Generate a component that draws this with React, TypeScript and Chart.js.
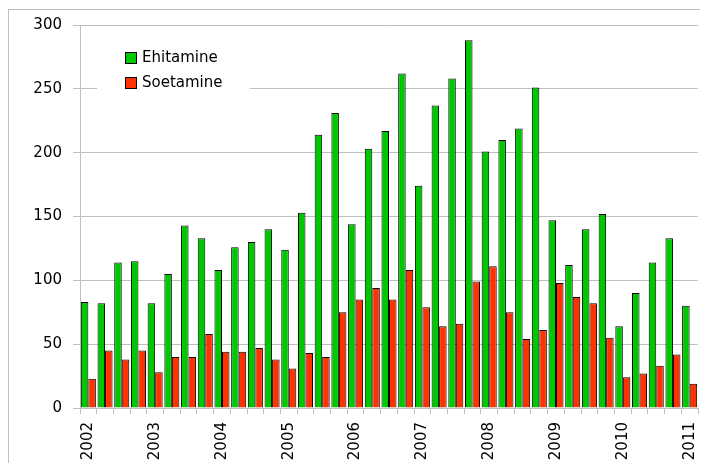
import React, { useEffect, useRef } from "react";
import { Chart, registerables } from "chart.js";

Chart.register(...registerables);

// One entry per quarter, 2002 Q1 .. 2011 Q1; year shown on first quarter
const categories = [
  "2002", "", "", "",
  "2003", "", "", "",
  "2004", "", "", "",
  "2005", "", "", "",
  "2006", "", "", "",
  "2007", "", "", "",
  "2008", "", "", "",
  "2009", "", "", "",
  "2010", "", "", "",
  "2011",
];

const ehitamine = [
  83, 82, 114, 115,
  82, 105, 143, 133,
  108, 126, 130, 140,
  124, 153, 214, 231,
  144, 203, 217, 262,
  174, 237, 258, 288,
  201, 210, 219, 251,
  147, 112, 140, 152,
  64, 90, 114, 133,
  80,
];

const soetamine = [
  23, 45, 38, 45,
  28, 40, 40, 58,
  44, 44, 47, 38,
  31, 43, 40, 75,
  85, 94, 85, 108,
  79, 64, 66, 99,
  111, 75, 54, 61,
  98, 87, 82, 55,
  24, 27, 33, 42,
  19,
];

const yTicks = [0, 50, 100, 150, 200, 250, 300];

const FONT = "'DejaVu Sans', sans-serif";
const GRID = "#bfbfbf";

const insideLegend = {
  id: "insideLegend",
  afterDraw(chart: any) {
    const ctx = chart.ctx;
    ctx.save();
    ctx.fillStyle = "#ffffff";
    ctx.fillRect(88, 30, 153, 56);
    ctx.font = `15px ${FONT}`;
    ctx.textBaseline = "middle";
    ctx.textAlign = "left";
    chart.data.datasets.forEach((ds: any, i: number) => {
      const y = 48 + i * 25;
      ctx.fillStyle = ds.backgroundColor;
      ctx.fillRect(117, y - 5, 10, 10);
      ctx.strokeStyle = "#000000";
      ctx.lineWidth = 1;
      ctx.strokeRect(116.5, y - 5.5, 11, 11);
      ctx.fillStyle = "#000000";
      ctx.fillText(ds.label, 133, y + 0.5);
    });
    ctx.restore();
  },
};

export default function App() {
  const ref = useRef<HTMLCanvasElement | null>(null);

  useEffect(() => {
    document.documentElement.style.overflow = "hidden";
    document.body.style.overflow = "hidden";
    if (!ref.current) return;
    const chart = new Chart(ref.current, {
      type: "bar",
      data: {
        labels: categories,
        datasets: [
          {
            label: "Ehitamine",
            data: ehitamine,
            backgroundColor: "#00c800",
            borderColor: "#000000",
            borderWidth: 1,
            borderSkipped: "start",
            categoryPercentage: 0.9,
            barPercentage: 1.0,
          },
          {
            label: "Soetamine",
            data: soetamine,
            backgroundColor: "#ff3300",
            borderColor: "#000000",
            borderWidth: 1,
            borderSkipped: "start",
            categoryPercentage: 0.9,
            barPercentage: 1.0,
          },
        ],
      },
      options: {
        responsive: false,
        animation: false,
        layout: { padding: { top: 15, right: 10, left: 0, bottom: 0 } },
        plugins: {
          legend: { display: false },
          tooltip: { enabled: false },
        },
        scales: {
          x: {
            offset: true,
            grid: {
              offset: true,
              drawOnChartArea: false,
              drawTicks: true,
              tickLength: 6,
              color: GRID,
              lineWidth: 1,
            },
            border: { display: true, color: GRID, width: 1 },
            ticks: {
              autoSkip: false,
              minRotation: 90,
              maxRotation: 90,
              padding: 8,
              color: "#000000",
              font: { family: FONT, size: 15 },
            },
            afterFit(scale: any) {
              scale.height = 56;
              scale.paddingLeft = 0;
              scale.paddingRight = 0;
            },
          },
          y: {
            min: 0,
            max: 300,
            afterBuildTicks(scale: any) {
              scale.ticks = yTicks.map((v) => ({ value: v }));
            },
            grid: {
              color: GRID,
              lineWidth: 1,
              drawTicks: true,
              tickLength: 7,
            },
            border: { display: true, color: GRID, width: 1 },
            ticks: {
              padding: 11,
              color: "#000000",
              font: { family: FONT, size: 15 },
            },
            afterFit(scale: any) {
              scale.width = 71;
              scale.paddingTop = 0;
              scale.paddingBottom = 0;
            },
          },
        },
      },
      plugins: [insideLegend],
    });
    return () => chart.destroy();
  }, []);

  return (
    <div
      style={{
        position: "relative",
        top: 1,
        width: 699,
        height: 454,
        borderTop: `1px solid ${GRID}`,
        borderLeft: `1px solid ${GRID}`,
        overflow: "hidden",
      }}
    >
      <canvas ref={ref} width={699} height={454} style={{ display: "block" }} />
    </div>
  );
}
